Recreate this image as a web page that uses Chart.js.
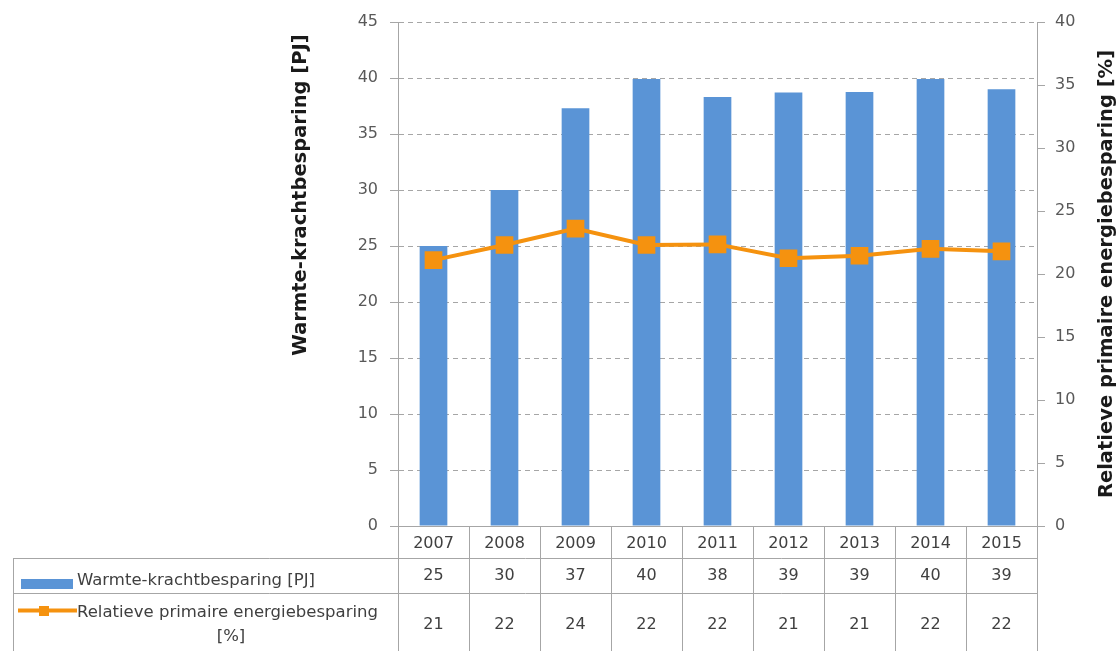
<!DOCTYPE html>
<html>
<head>
<meta charset="utf-8">
<script src="https://cdn.jsdelivr.net/npm/chart.js@4.4.1/dist/chart.umd.min.js"></script>
<style>
  body { margin: 0; background: #fff; }
  #wrap { width: 1119px; height: 651px; }
</style>
</head>
<body>
<div id="wrap"><canvas id="wkk-chart" width="1119" height="651"></canvas></div>
<script>
// data
const years = ['2007', '2008', '2009', '2010', '2011', '2012', '2013', '2014', '2015'];
const besparingPJ = [25.0, 30.0, 37.3, 39.9, 38.3, 38.7, 38.75, 39.9, 39.0];
const relatiefPct = [21.1, 22.3, 23.6, 22.3, 22.35, 21.25, 21.45, 22.0, 21.8];
const leftTicks = [0, 5, 10, 15, 20, 25, 30, 35, 40, 45];
const rightTicks = [0, 5, 10, 15, 20, 25, 30, 35, 40];

const barLabel = 'Warmte-krachtbesparing [PJ]';
const lineLabel = ['Relatieve primaire energiebesparing', '[%]'];
const leftTitle = 'Warmte-krachtbesparing [PJ]';
const rightTitle = 'Relatieve primaire energiebesparing [%]';

const blue = '#5a94d6';
const orange = '#f5920f';
const lineGray = '#a6a6a6';
const font = 'DejaVu Sans';

// table under the x axis + axis titles
const dataTable = {
  id: 'dataTable',
  afterDraw(chart) {
    const ctx = chart.ctx;
    const xs = chart.scales.x;
    const area = chart.chartArea;
    const step = xs.getPixelForValue(1) - xs.getPixelForValue(0);
    const first = xs.getPixelForValue(0) - step / 2;
    const tableLeft = 13;
    const row1 = 558, row2 = 593, bottom = chart.height;

    ctx.save();
    ctx.strokeStyle = lineGray;
    ctx.lineWidth = 1;
    ctx.beginPath();
    for (let i = 0; i <= years.length; i++) {
      const px = Math.round(first + i * step) + 0.5;
      ctx.moveTo(px, area.bottom);
      ctx.lineTo(px, bottom);
    }
    ctx.moveTo(tableLeft + 0.5, row1);
    ctx.lineTo(tableLeft + 0.5, bottom);
    ctx.moveTo(tableLeft, row1 + 0.5);
    ctx.lineTo(Math.round(first + years.length * step) + 1, row1 + 0.5);
    ctx.moveTo(tableLeft, row2 + 0.5);
    ctx.lineTo(Math.round(first + years.length * step) + 1, row2 + 0.5);
    ctx.stroke();

    // values
    ctx.fillStyle = '#404040';
    ctx.font = '16px "' + font + '"';
    ctx.textAlign = 'center';
    ctx.textBaseline = 'middle';
    years.forEach((y, i) => {
      const cx = xs.getPixelForValue(i);
      ctx.fillText(String(Math.round(besparingPJ[i])), cx, 576);
      ctx.fillText(String(Math.round(relatiefPct[i])), cx, 625);
    });

    // row labels with legend keys
    ctx.fillStyle = blue;
    ctx.fillRect(21, 579, 52, 10);
    ctx.strokeStyle = orange;
    ctx.lineWidth = 4;
    ctx.beginPath();
    ctx.moveTo(18, 610.5);
    ctx.lineTo(77, 610.5);
    ctx.stroke();
    ctx.fillStyle = orange;
    ctx.fillRect(39, 606, 10, 10);

    ctx.fillStyle = '#404040';
    ctx.font = '16.5px "' + font + '"';
    ctx.textAlign = 'left';
    ctx.fillText(barLabel, 77, 581);
    ctx.fillText(lineLabel[0], 77, 613);
    ctx.textAlign = 'center';
    ctx.fillText(lineLabel[1], 231, 637);

    // axis titles, both reading bottom to top
    ctx.fillStyle = '#1a1a1a';
    ctx.font = 'bold 19.5px "' + font + '"';
    ctx.save();
    ctx.translate(301, 195);
    ctx.rotate(-Math.PI / 2);
    ctx.fillText(leftTitle, 0, 0);
    ctx.restore();
    ctx.save();
    ctx.translate(1107, (area.top + area.bottom) / 2);
    ctx.rotate(-Math.PI / 2);
    ctx.fillText(rightTitle, 0, 0);
    ctx.restore();
    ctx.restore();
  }
};

new Chart(document.getElementById('wkk-chart').getContext('2d'), {
  data: {
    labels: years,
    datasets: [
      {
        type: 'line',
        label: lineLabel.join(' '),
        data: relatiefPct,
        yAxisID: 'y2',
        borderColor: orange,
        backgroundColor: orange,
        borderWidth: 4,
        pointStyle: 'rect',
        pointRadius: 12.5,
        pointBorderWidth: 0,
        pointBackgroundColor: orange,
        tension: 0,
        order: 0
      },
      {
        type: 'bar',
        label: barLabel,
        data: besparingPJ,
        yAxisID: 'y',
        backgroundColor: blue,
        barPercentage: 0.39,
        categoryPercentage: 1,
        order: 1
      }
    ]
  },
  options: {
    responsive: false,
    animation: false,
    layout: { padding: { left: 0, right: 0, top: 22, bottom: 0 } },
    plugins: { legend: { display: false }, tooltip: { enabled: false } },
    scales: {
      x: {
        offset: true,
        grid: { display: false },
        border: { color: lineGray },
        ticks: { color: '#404040', font: { family: font, size: 16 }, padding: 0, maxRotation: 0, autoSkip: false },
        afterFit(s) { s.height = 125; }
      },
      y: {
        position: 'left',
        min: 0, max: 45,
        afterBuildTicks(s) { s.ticks = leftTicks.map(v => ({ value: v })); },
        grid: { color: lineGray, tickColor: lineGray, tickLength: 8, tickBorderDash: [] },
        border: { color: lineGray, dash: [5, 4] },
        ticks: { color: '#595959', font: { family: font, size: 16 }, padding: 12 },
        afterFit(s) { s.width = 398; }
      },
      y2: {
        position: 'right',
        min: 0, max: 40,
        afterBuildTicks(s) { s.ticks = rightTicks.map(v => ({ value: v })); },
        grid: { drawOnChartArea: false, color: lineGray, tickColor: lineGray, tickLength: 8 },
        border: { color: lineGray },
        ticks: { color: '#595959', font: { family: font, size: 16 }, padding: 10 },
        afterFit(s) { s.width = 82; }
      }
    }
  },
  plugins: [dataTable]
});
</script>
</body>
</html>
